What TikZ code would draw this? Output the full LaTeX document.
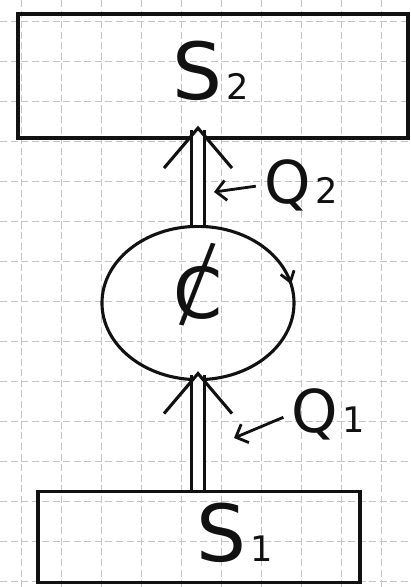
\documentclass[tikz,border=0pt]{standalone}
\usepackage{fontspec}
\setmainfont{DejaVu Sans}
\usetikzlibrary{arrows.meta, positioning, shapes.geometric, decorations.markings}
\definecolor{Ink}{HTML}{111111}
\definecolor{Grid}{HTML}{C4C4C4}
\newcommand{\subs}[1]{\kern3pt{\fontsize{25}{25}\selectfont #1}}

\begin{document}
\begin{tikzpicture}[
  x=0.025cm, y=-0.025cm,
  gridline/.style={draw=Grid, line width=0.9pt, dash pattern=on 5pt off 2.5pt},
  sysbox/.style={rectangle, draw=Ink, line width=2.4pt, inner sep=0pt},
  bigtext/.style={font=\fontsize{56}{56}\selectfont, text=Ink, inner sep=0pt},
  qtext/.style={font=\fontsize{42}{42}\selectfont, text=Ink, inner sep=0pt},
  machine/.style={ellipse, draw=Ink, line width=2.2pt, minimum width=4.8cm, minimum height=3.83cm, inner sep=0pt,
    decoration={markings, mark=at position 0.035 with {\arrowreversed{Straight Barb[length=2.5mm, width=3.5mm, line width=2pt]}}},
    postaction={decorate}},
  flow/.style={draw=Ink, line width=2.2pt, double, double distance=0.26cm,
    -{Straight Barb[length=1cm, width=1.7cm, line width=2.2pt]}},
  pointer/.style={draw=Ink, line width=2pt, -{Straight Barb[length=2.5mm, width=5mm, line width=2pt]}, shorten <=6pt}
]
\useasboundingbox (0,0) rectangle (411,587);
\foreach \gx in {0,...,9}
  \draw[gridline] (21.7+40*\gx,0) -- (21.7+40*\gx,587);
\foreach \gy in {0,...,14}
  \draw[gridline] (0,21.7+40*\gy) -- (411,21.7+40*\gy);

\node[sysbox, minimum width=9.75cm, minimum height=3.1cm] (s2) at (213,76) {};
\node[bigtext] (s2lbl) at (211,71) {S\subs{2}};
\node[machine] (circ) at (198,303) {};
\node[font=\fontsize{50}{50}\selectfont, text=Ink, inner sep=0pt] (cslash) at (198,298)
  {\ooalign{C\cr\hidewidth\rotatebox[origin=c]{-12}{\scalebox{0.8}[1.5]{/}}\hidewidth}};
\node[sysbox, minimum width=8.05cm, minimum height=2.28cm] (s1) at (199,537) {};
\node[bigtext] (s1lbl) at (235,533) {S\subs{1}};

\draw[flow, shorten >=-0.25cm] (circ.south |- s1.north) -- (circ.south);
\draw[flow, shorten >=-0.35cm] (circ.north) -- (circ.north |- s2.south);

\node[qtext] (q2) at (301,185) {Q\subs{2}};
\node[qtext] (q1) at (328,414) {Q\subs{1}};
\coordinate (q2tip) at (214,192);
\coordinate (q1tip) at (234,438);
\draw[pointer] (q2.west) -- (q2tip);
\draw[pointer] (q1.west) -- (q1tip);
\end{tikzpicture}
\end{document}
